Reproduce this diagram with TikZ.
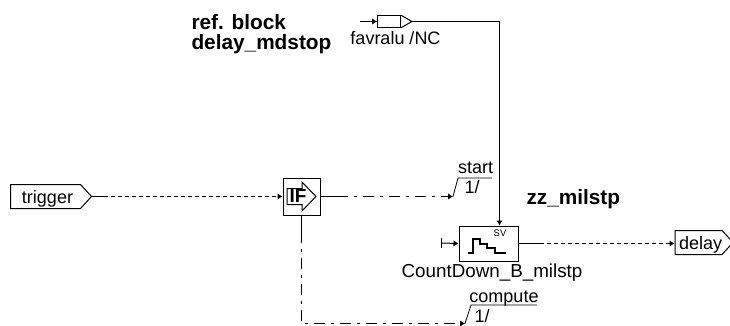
\documentclass[tikz,border=0pt]{standalone}
\usepackage{fontspec}
\setmainfont{Liberation Sans}
\usetikzlibrary{arrows.meta,shapes.symbols}
\begin{document}
\begin{tikzpicture}[
    x=1pt,y=-1pt,
    line width=1pt,
    lbl/.style={font=\fontsize{18}{20}\selectfont,inner sep=0pt,anchor=base},
    title/.style={font=\fontsize{20.8}{20}\selectfont\bfseries,inner sep=0pt},
    port/.style={draw,signal,signal to=east,signal pointer angle=95,font=\fontsize{18}{20}\selectfont,inner sep=0pt,minimum height=24pt,text height=13pt,text depth=0pt,execute at begin node={\hspace*{4pt}}},
    tip/.style={-{Latex[length=5pt,width=6.5pt]}},
    dotline/.style={tip,dash pattern=on 4pt off 3pt},
    dashdot/.style={tip,dash pattern=on 11pt off 6pt on 3pt off 6pt},
    bar/.style={line width=0.8pt}
]
\useasboundingbox (0,0) rectangle (730,326);

% input ports
\node[port,minimum width=81pt,anchor=west] (trigger) at (10,196.5) {trigger};
\node[draw,minimum width=23pt,minimum height=11.5pt,inner sep=0pt,anchor=west] (favralu) at (377,21.5) {};
\coordinate (favin) at (360,21.5);
\draw (favralu.north east) -- (412,21.5) coordinate (favout) -- (favralu.south east);
\draw[tip] (favin) -- (favralu.west);
\node[lbl] (favlbl) at (395.5,45) {favralu /NC};

% if block
\node[draw,minimum size=37pt,inner sep=0pt] (ifblock) at (301.5,196.5) {};
\draw (287,188.5) -- (302,188.5) -- (302,182) -- (316,196.5) -- (302,211) -- (302,204.5) -- (287,204.5) -- cycle;
\node[font=\fontsize{19}{21}\selectfont\bfseries,inner sep=0pt] (iflbl) at (298,196) {IF};

% countdown block
\node[draw,minimum width=59pt,minimum height=35pt,inner sep=0pt,anchor=north west] (count) at (458.5,225.5) {};
\coordinate (svin) at (499.5,225.5);
\node[font=\fontsize{9.5}{11}\selectfont,inner sep=0pt] (svlbl) at (500,233) {SV};
\draw[line width=1.5pt] (468,253) -- (473,253) -- (473,239) -- (480,239) -- (480,244) -- (487,244) -- (487,248) -- (495,248) -- (495,253) -- (506,253);
\coordinate (countin) at (441.5,243);
\draw[tip] (countin) -- (count.west);
\draw (441.5,238) -- (441.5,248);
\node[lbl,font=\fontsize{18.8}{21}\selectfont] (countlbl) at (492,277) {CountDown\_B\_milstp};

% output port
\node[port,minimum width=56pt,anchor=west] (delay) at (674.5,242.5) {delay};

% start and compute terminals
\coordinate (startin) at (453,196.5);
\draw[bar] (startin) -- (458,178) -- (492,178);
\node[lbl] (startlbl) at (475.5,173.5) {start};
\node[lbl,anchor=base west] (startnum) at (464,193) {1/};
\coordinate (compin) at (465,323.5);
\draw[bar] (compin) -- (471,305) -- (537,305);
\node[lbl] (complbl) at (504,302) {compute};
\node[lbl,anchor=base west] (compnum) at (474,322) {1/};

% connectors
\draw[tip] (favout) -| (svin);
\draw (trigger.east) -- ++(12,0) coordinate (trigout);
\draw[dotline] (trigout) -- (ifblock.west);
\draw (ifblock.east) -- ++(16,0) coordinate (ifout);
\draw[dashdot] (ifout) -- (startin);
\draw (ifblock.south) -- ++(0,16) coordinate (ifdown);
\draw[dashdot] (ifdown) |- (compin);
\draw (count.east) -- ++(21,0) coordinate (countout);
\draw[dotline] (countout) -- (countout -| delay.west);

% titles
\node[title,align=left,anchor=north west] (refblock) at (191,13.5) {ref. block\\delay\_mdstop};
\node[title,anchor=west] (zzlbl) at (526,199) {zz\_milstp};

\end{tikzpicture}
\end{document}
